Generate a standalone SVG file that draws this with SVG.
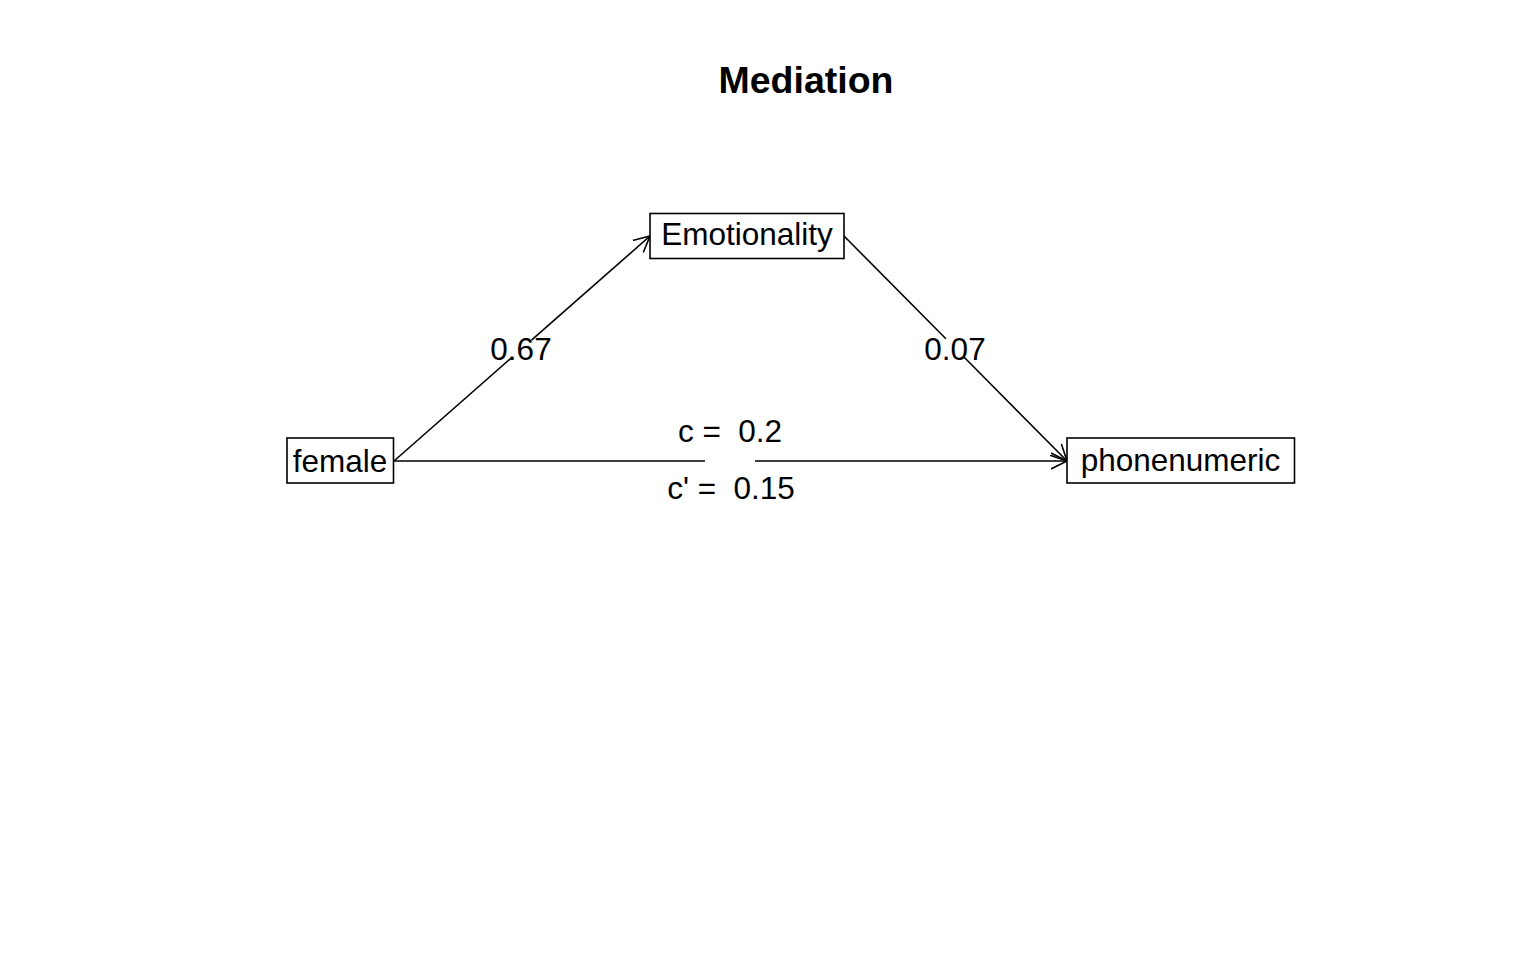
<svg xmlns="http://www.w3.org/2000/svg" width="1536" height="960" viewBox="0 0 1536 960">
<defs>
<style>
.box{fill:#fff;stroke:#000;stroke-width:1.6}
.lbl{font-family:"Liberation Sans",Arial,sans-serif;font-size:31.5px;fill:#000;text-anchor:middle;white-space:pre}
.title{font-family:"Liberation Sans",Arial,sans-serif;font-size:37.5px;font-weight:bold;fill:#000;text-anchor:middle}
.edge{stroke:#000;stroke-width:1.6;fill:none}
</style>
<marker id="arr" viewBox="0 0 20 20" refX="16" refY="10" markerWidth="20" markerHeight="20" markerUnits="userSpaceOnUse" orient="auto">
<path d="M0,2 L16,10 L0,18" fill="none" stroke="#000" stroke-width="1.6"/>
</marker>
</defs>
<rect width="1536" height="960" fill="#fff"/>
<text class="title" x="806" y="93">Mediation</text>
<g id="connectors">
<line class="edge" x1="394" y1="461" x2="512" y2="357.3"/>
<line class="edge" x1="531.5" y1="340.2" x2="650" y2="236" marker-end="url(#arr)"/>
<line class="edge" x1="844" y1="236" x2="945.9" y2="338.8"/>
<line class="edge" x1="964.2" y1="357.3" x2="1067" y2="461" marker-end="url(#arr)"/>
<line class="edge" x1="394" y1="461" x2="705" y2="461"/>
<line class="edge" x1="755" y1="461" x2="1067" y2="461" marker-end="url(#arr)"/>
<text class="lbl" x="521" y="360">0.67</text>
<text class="lbl" x="955" y="360">0.07</text>
<text class="lbl" x="730" y="442">c =  0.2</text>
<text class="lbl" x="731" y="499">c' =  0.15</text>
</g>
<g id="female">
<rect class="box" x="287" y="438" width="106.5" height="45"/>
<text class="lbl" x="340" y="472">female</text>
</g>
<g id="Emotionality">
<rect class="box" x="650" y="213.5" width="194" height="45"/>
<text class="lbl" x="747" y="245">Emotionality</text>
</g>
<g id="phonenumeric">
<rect class="box" x="1067" y="438" width="227.5" height="45"/>
<text class="lbl" x="1180.5" y="471">phonenumeric</text>
</g>
</svg>
